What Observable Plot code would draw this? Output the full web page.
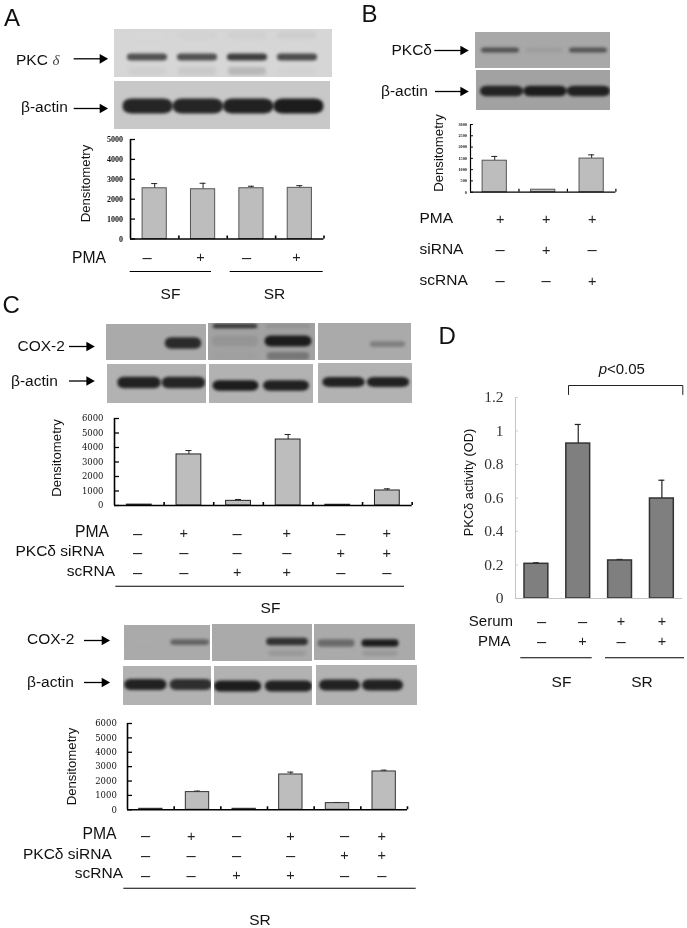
<!DOCTYPE html>
<html>
<head>
<meta charset="utf-8">
<script src="https://cdn.jsdelivr.net/npm/d3@7"></script>
<script src="https://cdn.jsdelivr.net/npm/@observablehq/plot@0.6"></script>
<style>
html,body{margin:0;padding:0;background:#fff}
#page{position:relative;width:687px;height:928px;overflow:hidden;background:#fff;filter:grayscale(1) blur(0.3px)}
#page svg{position:absolute;display:block;max-width:none}
</style>
</head>
<body>
<div id="page"></div>
<script>
// ---------- densitometry values ----------
const valuesA = [2550, 2500, 2550, 2570];
const errTopA = [2785, 2800, 2650, 2680];
const ticksA = [0, 1000, 2000, 3000, 4000, 5000];

const valuesB = [1395, 110, 1490];
const errTopB = [1585, 110, 1655];
const ticksB = [0, 500, 1000, 1500, 2000, 2500, 3000];

const valuesCSF = [60, 3520, 320, 4550, 50, 1035];
const errTopCSF = [60, 3790, 415, 4895, 50, 1150];
const valuesCSR = [70, 1230, 70, 2455, 465, 2665];
const errTopCSR = [70, 1300, 70, 2620, 510, 2755];
const ticksC = [0, 1000, 2000, 3000, 4000, 5000, 6000];

const valuesD = [0.207, 0.925, 0.227, 0.597];
const errTopD = [0.213, 1.039, 0.233, 0.706];
const ticksD = [0, 0.2, 0.4, 0.6, 0.8, 1, 1.2];

// ---------- treatment rows ----------
const pmaA = ["–", "+", "–", "+"];
const pmaB = ["+", "+", "+"];
const sirnaB = ["–", "+", "–"];
const scrnaB = ["–", "–", "+"];
const pmaC = ["–", "+", "–", "+", "–", "+"];
const sirnaC = ["–", "–", "–", "–", "+", "+"];
const scrnaC = ["–", "–", "+", "+", "–", "–"];
const serumD = ["–", "–", "+", "+"];
const pmaD = ["–", "+", "–", "+"];

// ---------- band intensities of the blots (0 none, 1 darkest) ----------
const pkcA = [0.72, 0.72, 0.82, 0.75];
const pkcAGhost = [0.04, 0.07, 0.16, 0.02];
const pkcAUpper = [0, 0.02, 0.03, 0.05];
const actinA = [0.95, 0.95, 0.97, 1];
const pkcB = [0.62, 0.08, 0.6];
const actinB = [0.95, 1, 0.97];
const coxSF1 = [0, 0.9];
const coxSF2 = [0.1, 1];
const coxSF2Top = [0.8, 0.12];
const coxSF2Ghost = [0.02, 0.32];
const coxSF3 = [0, 0.3];
const actinSF1 = [0.97, 0.95];
const actinSF2 = [1, 0.97];
const actinSF3 = [0.97, 0.97];
const coxSR1 = [0, 0.5];
const coxSR2 = [0, 0.85];
const coxSR2Ghost = [0, 0.12];
const coxSR3 = [0.45, 1];
const coxSR3Ghost = [0, 0.12];
const actinSR1 = [0.97, 0.88];
const actinSR2 = [1, 0.97];
const actinSR3 = [0.97, 0.97];

// ---------- layout ----------
const page = document.getElementById("page");
function place(svg, left, top) {
  svg.style.left = left + "px";
  svg.style.top = top + "px";
  svg.style.background = "transparent";
  page.appendChild(svg);
  return svg;
}

function blot({x0, x1, y0, y1, bg, dark = "#1c1c1c", c0, c1, rows, blur = 1.5}) {
  const w = x1 - x0, h = y1 - y0;
  const n = rows[0].values.length;
  const marks = rows.map(r => {
    const mix = d3.interpolateRgb(bg, dark);
    const half = r.half * 1.05, thick = r.thick * 1.15;
    return Plot.rect(r.values.map((v, i) => ({v, i})), {
      x1: d => d.i - half,
      x2: d => d.i + half,
      y1: r.y - thick / 2,
      y2: r.y + thick / 2,
      fill: d => mix(d.v),
      rx: r.rx ?? 4,
      ry: thick / 2.5
    });
  });
  const svg = Plot.plot({
    width: w, height: h, margin: 0,
    x: {axis: null, domain: [0, n - 1], range: [c0 - x0, c1 - x0]},
    y: {axis: null, domain: [0, h], range: [0, h]},
    marks
  });
  svg.querySelectorAll('g[aria-label="rect"]').forEach(g => g.style.filter = `blur(${blur}px)`);
  place(svg, x0, y0);
  svg.style.background = bg;
  svg.style.overflow = "hidden";
}

function bars({left, right, top, bottom, yMax, ticks, values, errs, barFrac = 0.5,
               fill = "#bdbdbd", stroke = "#3a3a3a", strokeWidth = 1, axisStroke = "#000", axisWidth = 1.6,
               font, fontSize, fontWeight = "normal", padding, tickLen = 5, xTicks = true, labelFill = "#111",
               errWidth = 1, cap = 3}) {
  const mL = 50, mR = 6, mT = 10, mB = 12, n = values.length;
  const w = right - left, h = bottom - top, lane = w / n;
  const data = values.map((v, i) => ({i, v, e: errs[i]}));
  const half = barFrac / 2;
  const marks = [
    Plot.ruleX(data.filter(d => d.e > d.v), {x: "i", y1: "v", y2: "e", stroke: "#222", strokeWidth: errWidth}),
    Plot.ruleY(data.filter(d => d.e > d.v), {y: "e", x1: d => d.i - cap / lane, x2: d => d.i + cap / lane, stroke: "#222", strokeWidth: errWidth}),
    Plot.rectY(data, {x1: d => d.i - half, x2: d => d.i + half, y1: 0, y2: "v", fill, stroke, strokeWidth}),
    Plot.ruleX([-0.5], {y1: 0, y2: yMax, stroke: axisStroke, strokeWidth: axisWidth}),
    Plot.ruleY([0], {x1: -0.5, x2: n - 0.5, stroke: axisStroke, strokeWidth: axisWidth}),
    Plot.ruleY(ticks, {x1: -0.5, x2: -0.5 + tickLen / lane, stroke: axisStroke, strokeWidth: axisWidth * 0.8}),
    Plot.text(ticks, {x: () => -0.5, y: d => d, text: d => String(d), textAnchor: "end", dx: -padding,
      fontFamily: font, fontSize, fontWeight, fill: labelFill})
  ];
  if (xTicks) marks.push(Plot.ruleX(d3.range(1, n + 1).map(i => i - 0.5),
    {y1: 0, y2: yMax * 3 / h, stroke: axisStroke, strokeWidth: axisWidth}));
  const svg = Plot.plot({
    width: mL + w + mR, height: mT + h + mB,
    marginLeft: mL, marginRight: mR, marginTop: mT, marginBottom: mB,
    x: {axis: null, domain: [-0.5, n - 0.5], range: [mL, mL + w]},
    y: {axis: null, domain: [0, yMax], range: [mT + h, mT]},
    style: {background: "transparent"},
    marks
  });
  place(svg, left - mL, top - mT);
}

// Panel A
blot({x0: 114, x1: 332, y0: 29, y1: 77, bg: "#d6d6d6", c0: 147, c1: 297, rows: [
  {values: pkcAUpper, y: 6, thick: 6, half: 0.36},
  {values: pkcAGhost, y: 42, thick: 7, half: 0.36},
  {values: pkcA, y: 28, thick: 6, half: 0.38}]});
blot({x0: 113.5, x1: 330, y0: 81, y1: 128.5, bg: "#c8c8c8", c0: 147, c1: 298, rows: [
  {values: actinA, y: 25, thick: 13, half: 0.47, rx: 9}]});
bars({left: 129.5, right: 323, top: 138.5, bottom: 238, yMax: 5000, ticks: ticksA, values: valuesA, errs: errTopA,
  font: "Liberation Serif", fontSize: 8, fontWeight: "bold", padding: 7.5, stroke: "#555"});

// Panel B
blot({x0: 475, x1: 609.5, y0: 32, y1: 67.5, bg: "#a8a8a8", c0: 500, c1: 588, rows: [
  {values: pkcB, y: 18, thick: 4.5, half: 0.41}]});
blot({x0: 475.5, x1: 610, y0: 70, y1: 110, bg: "#a2a2a2", c0: 501, c1: 588, rows: [
  {values: actinB, y: 21, thick: 9, half: 0.47, rx: 7}]});
bars({left: 470.3, right: 615.7, top: 124, bottom: 191.7, yMax: 3000, ticks: ticksB, values: valuesB, errs: errTopB,
  font: "Liberation Serif", fontSize: 4.2, fontWeight: "bold", padding: 3.6, tickLen: 3, axisWidth: 1.2, stroke: "#555"});

// Panel C, SF
const cBg = "#aaaaaa", aBg = "#b2b2b2";
blot({x0: 106, x1: 206, y0: 324, y1: 360, bg: cBg, c0: 140, c1: 183, rows: [
  {values: coxSF1, y: 19, thick: 10, half: 0.4, rx: 7}]});
blot({x0: 208, x1: 315, y0: 323, y1: 360, bg: "#a2a2a2", c0: 235, c1: 288, rows: [
  {values: coxSF2Top, y: 3, thick: 4, half: 0.4},
  {values: coxSF2Ghost, y: 33, thick: 7, half: 0.38},
  {values: coxSF2, y: 18, thick: 9.5, half: 0.42, rx: 7}]});
blot({x0: 317.5, x1: 411, y0: 323, y1: 360, bg: cBg, c0: 345, c1: 387, rows: [
  {values: coxSF3, y: 21, thick: 5, half: 0.4}]});
blot({x0: 107, x1: 206, y0: 363.5, y1: 402.5, bg: aBg, c0: 139, c1: 183.5, rows: [
  {values: actinSF1, y: 18.5, thick: 10, half: 0.46, rx: 7}]});
blot({x0: 208.5, x1: 313, y0: 364, y1: 403, bg: aBg, c0: 235, c1: 285.5, rows: [
  {values: actinSF2, y: 21.5, thick: 9, half: 0.43, rx: 7}]});
blot({x0: 318, x1: 412, y0: 363, y1: 403, bg: aBg, c0: 343.5, c1: 388, rows: [
  {values: actinSF3, y: 19, thick: 8.5, half: 0.45, rx: 7}]});
bars({left: 114, right: 411.7, top: 418.3, bottom: 505.3, yMax: 6000, ticks: ticksC, values: valuesCSF, errs: errTopCSF,
  font: "DejaVu Serif", fontSize: 8.5, padding: 11, stroke: "#222"});

// Panel C, SR
blot({x0: 124, x1: 210, y0: 625, y1: 660, bg: cBg, c0: 146, c1: 189.7, rows: [
  {values: coxSR1, y: 17, thick: 5, half: 0.42}]});
blot({x0: 212, x1: 312, y0: 623.5, y1: 661, bg: cBg, c0: 240, c1: 287, rows: [
  {values: coxSR2Ghost, y: 29, thick: 5, half: 0.38},
  {values: coxSR2, y: 17.5, thick: 6.5, half: 0.42}]});
blot({x0: 314, x1: 415, y0: 623.5, y1: 660, bg: cBg, c0: 336, c1: 380, rows: [
  {values: coxSR3Ghost, y: 29, thick: 5, half: 0.38},
  {values: coxSR3, y: 19, thick: 6.5, half: 0.4}]});
blot({x0: 122.7, x1: 211, y0: 666, y1: 705, bg: aBg, c0: 145, c1: 190.5, rows: [
  {values: actinSR1, y: 18.5, thick: 9.5, half: 0.44, rx: 7}]});
blot({x0: 214, x1: 311.5, y0: 666, y1: 705, bg: aBg, c0: 237.5, c1: 288.5, rows: [
  {values: actinSR2, y: 20, thick: 9.5, half: 0.44, rx: 7}]});
blot({x0: 315.5, x1: 417, y0: 665, y1: 705, bg: aBg, c0: 339, c1: 382, rows: [
  {values: actinSR3, y: 20, thick: 9.5, half: 0.45, rx: 7}]});
bars({left: 126.7, right: 406.7, top: 722.7, bottom: 809, yMax: 6000, ticks: ticksC, values: valuesCSR, errs: errTopCSR,
  font: "DejaVu Serif", fontSize: 8.5, padding: 10.7, stroke: "#333"});

// Panel D
bars({left: 514.7, right: 682, top: 397.3, bottom: 598.3, yMax: 1.2, ticks: ticksD, values: valuesD, errs: errTopD,
  barFrac: 0.57, fill: "#7f7f7f", stroke: "#333", strokeWidth: 1.5, axisStroke: "#c4c4c4", axisWidth: 1,
  font: "Liberation Serif", fontSize: 15.5, padding: 12, xTicks: false, labelFill: "#333", tickLen: 3, errWidth: 1.2});

// ---------- annotation layer: labels, arrows, treatment rows ----------
const sans = "Liberation Sans";
const labels = [
  {t: "A", x: 3.5, y: 18, a: "start", s: 24}, {t: "B", x: 361, y: 14, a: "start", s: 24},
  {t: "C", x: 2, y: 305, a: "start", s: 24}, {t: "D", x: 438, y: 336, a: "start", s: 24},
  {t: "PKC", x: 15.5, y: 60, a: "start", s: 15.5}, {t: "β-actin", x: 20.5, y: 107, a: "start", s: 15.5},
  {t: "PMA", x: 105.5, y: 257, a: "end", s: 15.7}, {t: "SF", x: 170, y: 294, a: "middle", s: 15.5}, {t: "SR", x: 274, y: 294, a: "middle", s: 15.5},
  {t: "PKCδ", x: 391, y: 50, a: "start", s: 15.5}, {t: "β-actin", x: 380.5, y: 91, a: "start", s: 15.5},
  {t: "PMA", x: 419, y: 218, a: "start", s: 15.5}, {t: "siRNA", x: 419, y: 249, a: "start", s: 15.5}, {t: "scRNA", x: 419, y: 280, a: "start", s: 15.5},
  {t: "COX-2", x: 17, y: 345.5, a: "start", s: 15.5}, {t: "β-actin", x: 10.5, y: 381, a: "start", s: 15.5},
  {t: "PMA", x: 108.5, y: 531, a: "end", s: 15.7}, {t: "PKCδ siRNA", x: 15, y: 551, a: "start", s: 15.5}, {t: "scRNA", x: 114.5, y: 571, a: "end", s: 15.5},
  {t: "SF", x: 270, y: 608, a: "middle", s: 15.5},
  {t: "COX-2", x: 26.5, y: 639, a: "start", s: 15.5}, {t: "β-actin", x: 26.5, y: 682, a: "start", s: 15.5},
  {t: "PMA", x: 116, y: 833.5, a: "end", s: 15.7}, {t: "PKCδ siRNA", x: 22.5, y: 853.5, a: "start", s: 15.5}, {t: "scRNA", x: 122.5, y: 873, a: "end", s: 15.5},
  {t: "SR", x: 259.5, y: 919.5, a: "middle", s: 15.5},
  {t: "<0.05", x: 606.5, y: 369, a: "start", s: 15},
  {t: "Serum", x: 512.5, y: 620.5, a: "end", s: 15}, {t: "PMA", x: 510, y: 640.5, a: "end", s: 15},
  {t: "SF", x: 561, y: 681.5, a: "middle", s: 15.5}, {t: "SR", x: 641.5, y: 681.5, a: "middle", s: 15.5}
];
const vertical = [
  {t: "Densitometry", x: 85, y: 183, s: 13.2}, {t: "Densitometry", x: 438.7, y: 152.5, s: 13.2},
  {t: "Densitometry", x: 56.7, y: 457.5, s: 13.2}, {t: "Densitometry", x: 71.7, y: 766, s: 13.2},
  {t: "PKCδ activity (OD)", x: 468.3, y: 482, s: 12.8}
];
const arrows = [
  {x1: 73.7, x2: 105, y: 58.3}, {x1: 73.7, x2: 105, y: 108},
  {x1: 434.3, x2: 465.7, y: 50}, {x1: 435, x2: 465.7, y: 91},
  {x1: 69, x2: 91.7, y: 346}, {x1: 69, x2: 91.7, y: 380.5},
  {x1: 84, x2: 107, y: 640}, {x1: 84, x2: 107, y: 682}
];
const underlines = [
  {x1: 129.7, x2: 211, y: 271}, {x1: 229.7, x2: 322.7, y: 271},
  {x1: 115.3, x2: 404, y: 585.7}, {x1: 123.3, x2: 415.7, y: 887.7},
  {x1: 520.3, x2: 591.7, y: 657.3}, {x1: 605, x2: 684, y: 657.3}
];
const rowOf = (signs, xs, y) => signs.map((t, i) => ({t, x: xs[i], y}));
const signs = [
  ...rowOf(pmaA, [146.7, 200, 246, 296], 257),
  ...rowOf(pmaB, [499.7, 545.7, 591.7], 219),
  ...rowOf(sirnaB, [499.7, 545.7, 591.7], 249.5),
  ...rowOf(scrnaB, [499.7, 545.7, 591.7], 280.5),
  ...rowOf(pmaC, [137, 183.3, 236.7, 286.3, 340.3, 386.3], 533),
  ...rowOf(sirnaC, [137, 183.3, 236.7, 286.3, 340.3, 386.3], 552.5),
  ...rowOf(scrnaC, [137, 183.3, 236.7, 286.3, 340.3, 386.3], 572),
  ...rowOf(pmaC, [145, 190.7, 236, 290, 344, 381.3], 835.7),
  ...rowOf(sirnaC, [145, 190.7, 236, 290, 344, 381.3], 855.3),
  ...rowOf(scrnaC, [145, 190.7, 236, 290, 344, 381.3], 875),
  ...rowOf(serumD, [541, 582, 620.5, 661.5], 621),
  ...rowOf(pmaD, [541, 582, 620.5, 661.5], 641)
];
const bracket = [{x: 568, y: 394}, {x: 568, y: 385}, {x: 682.3, y: 385}, {x: 682.3, y: 394}];
const labelMark = anchor => Plot.text(labels.filter(d => d.a === anchor), {
  x: "x", y: "y", text: "t", textAnchor: anchor, fontSize: "s", fontFamily: sans, fill: "#111"});
const signMark = (sign, size) => Plot.text(signs.filter(d => d.t === sign), {
  x: "x", y: "y", text: "t", fontSize: size, fontFamily: sans, fill: "#222"});

const overlay = Plot.plot({
  width: 687, height: 928, margin: 0,
  x: {axis: null, domain: [0, 687], range: [0, 687]},
  y: {axis: null, domain: [0, 928], range: [0, 928]},
  style: {background: "transparent"},
  marks: [
    Plot.ruleY(underlines, {x1: "x1", x2: "x2", y: "y", stroke: "#000", strokeWidth: 1.1}),
    Plot.ruleY(arrows, {x1: "x1", x2: d => d.x2 - 4, y: "y", stroke: "#000", strokeWidth: 1.3}),
    Plot.dot(arrows, {x: d => d.x2 - 3, y: "y", symbol: "triangle", rotate: 90, r: 3.6, fill: "#000"}),
    Plot.line(bracket, {x: "x", y: "y", stroke: "#222", strokeWidth: 1}),
    labelMark("start"), labelMark("middle"), labelMark("end"),
    Plot.text(vertical, {x: "x", y: "y", text: "t", rotate: -90, fontSize: "s", fontFamily: sans, fill: "#111"}),
    Plot.text(["δ"], {x: 52, y: 60, textAnchor: "start", fontSize: 15, fontFamily: "Liberation Serif", fontStyle: "italic", fill: "#444"}),
    Plot.text(["p"], {x: 606.5, y: 369, textAnchor: "end", fontSize: 15, fontFamily: sans, fontStyle: "italic", fill: "#111"}),
    signMark("+", 14.5), signMark("–", 16.5)
  ]
});
place(overlay, 0, 0);
</script>
</body>
</html>
